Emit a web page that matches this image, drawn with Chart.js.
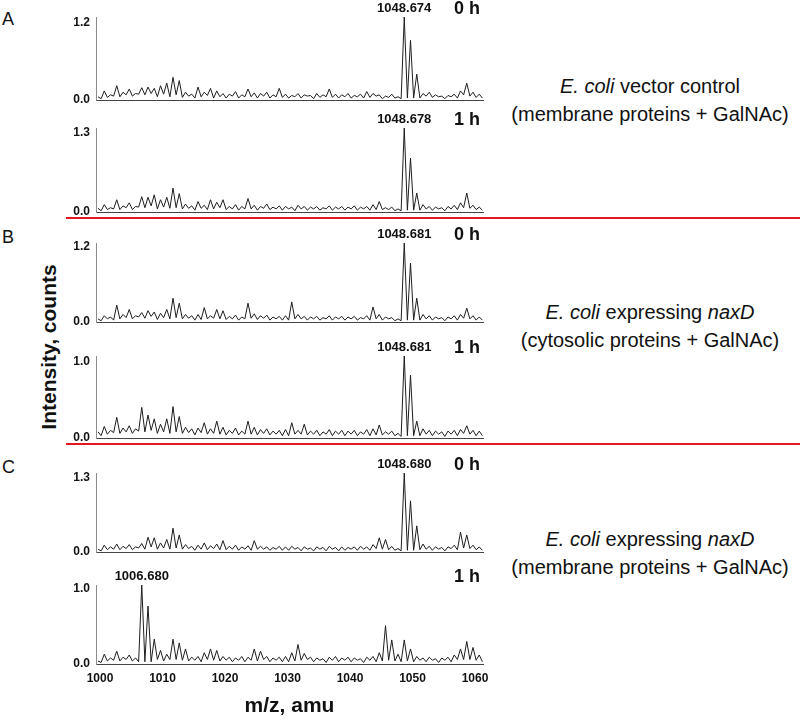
<!DOCTYPE html>
<html>
<head>
<meta charset="utf-8">
<script src="https://cdn.jsdelivr.net/npm/chart.js@4.4.1/dist/chart.umd.min.js"></script>
<style>
  html, body { margin: 0; padding: 0; background: #fff; }
  body {
    width: 800px; height: 720px; position: relative; overflow: hidden;
    font-family: "Liberation Sans", Arial, Helvetica, sans-serif; color: #111;
  }
  .abs { position: absolute; }
  .letter { left: 2px; font-size: 18px; line-height: 18px; }
  .sample { left: 510px; width: 280px; text-align: center; font-size: 20px; line-height: 28px; white-space: nowrap; }
  .redline { left: 66px; width: 734px; height: 2px; background: #e5161d; }
  .ytitle {
    left: -51px; top: 335px; width: 200px; height: 24px; line-height: 24px;
    text-align: center; font-size: 21px; font-weight: bold; transform: rotate(-90deg);
  }
  canvas { position: absolute; left: 0; }
</style>
</head>
<body>
<div class="abs letter" style="top:10px">A</div>
<div class="abs letter" style="top:228px">B</div>
<div class="abs letter" style="top:458px">C</div>

<div class="abs redline" style="top:217px"></div>
<div class="abs redline" style="top:443px"></div>

<div class="abs ytitle">Intensity, counts</div>

<div class="abs sample" style="top:72px"><i>E. coli</i> vector control<br>(membrane proteins + GalNAc)</div>
<div class="abs sample" style="top:298px"><i>E. coli</i> expressing <i>naxD</i><br>(cytosolic proteins + GalNAc)</div>
<div class="abs sample" style="top:525px"><i>E. coli</i> expressing <i>naxD</i><br>(membrane proteins + GalNAc)</div>

<script>
// m/z sampling points of the spectra (peak / valley alternating)
const mz = [
  999.68,1000.18,1000.68,1001.18,1001.68,1002.18,1002.68,1003.18,1003.68,1004.18,1004.68,1005.18,1005.68,1006.18,1006.68,1007.18,1007.68,1008.18,1008.68,1009.18,
  1009.68,1010.18,1010.68,1011.18,1011.68,1012.18,1012.68,1013.18,1013.68,1014.18,1014.68,1015.18,1015.68,1016.18,1016.68,1017.18,1017.68,1018.18,1018.68,1019.18,
  1019.68,1020.18,1020.68,1021.18,1021.68,1022.18,1022.68,1023.18,1023.68,1024.18,1024.68,1025.18,1025.68,1026.18,1026.68,1027.18,1027.68,1028.18,1028.68,1029.18,
  1029.68,1030.18,1030.68,1031.18,1031.68,1032.18,1032.68,1033.18,1033.68,1034.18,1034.68,1035.18,1035.68,1036.18,1036.68,1037.18,1037.68,1038.18,1038.68,1039.18,
  1039.68,1040.18,1040.68,1041.18,1041.68,1042.18,1042.68,1043.18,1043.68,1044.18,1044.68,1045.18,1045.68,1046.18,1046.68,1047.18,1047.68,1048.18,1048.68,1049.18,
  1049.68,1050.18,1050.68,1051.18,1051.68,1052.18,1052.68,1053.18,1053.68,1054.18,1054.68,1055.18,1055.68,1056.18,1056.68,1057.18,1057.68,1058.18,1058.68,1059.18,
  1059.68,1060.18,1060.68,1061.18
];

// A: vector control, membrane proteins
const specA0 = [
  .05,.02,.14,.04,.08,.06,.22,.05,.12,.08,.17,.06,.10,.09,.19,.08,.20,.10,.18,.05,
  .22,.09,.26,.05,.35,.08,.30,.04,.12,.06,.09,.03,.20,.05,.12,.07,.18,.03,.14,.05,
  .10,.03,.09,.06,.13,.03,.08,.05,.17,.05,.11,.03,.10,.06,.12,.03,.08,.05,.18,.04,
  .09,.03,.07,.05,.10,.03,.08,.06,.07,.02,.10,.04,.08,.05,.17,.04,.09,.03,.08,.05,
  .10,.03,.07,.05,.09,.03,.13,.04,.10,.06,.08,.02,.06,.04,.09,.03,.05,.02,1.28,.03,
  .92,.03,.40,.03,.10,.06,.12,.04,.08,.05,.06,.02,.07,.05,.09,.03,.14,.08,.26,.06,
  .12,.04,.09,.03
];
const specA1 = [
  .06,.02,.12,.04,.07,.05,.20,.04,.10,.07,.15,.04,.09,.08,.25,.07,.24,.10,.28,.05,
  .20,.08,.24,.06,.39,.07,.30,.05,.13,.06,.10,.03,.17,.06,.11,.04,.20,.05,.16,.07,
  .20,.04,.09,.05,.12,.03,.09,.05,.22,.05,.11,.03,.09,.06,.13,.04,.08,.05,.10,.03,
  .09,.05,.08,.02,.11,.05,.09,.03,.08,.05,.09,.03,.07,.05,.10,.03,.08,.05,.09,.03,
  .08,.05,.10,.03,.08,.05,.09,.03,.12,.04,.17,.04,.07,.04,.08,.02,.05,.02,1.37,.03,
  .88,.03,.31,.03,.12,.05,.09,.03,.08,.05,.07,.02,.09,.05,.11,.04,.15,.07,.31,.06,
  .11,.04,.08,.03
];
// B: naxD, cytosolic proteins
const specB0 = [
  .05,.02,.10,.05,.08,.03,.27,.05,.12,.07,.20,.05,.10,.08,.15,.06,.18,.09,.16,.04,
  .14,.07,.20,.05,.38,.07,.30,.05,.12,.06,.10,.03,.12,.04,.23,.05,.10,.06,.20,.05,
  .18,.04,.09,.05,.11,.03,.08,.05,.30,.06,.13,.04,.10,.06,.11,.03,.08,.05,.09,.03,
  .10,.03,.32,.05,.12,.05,.09,.03,.08,.05,.09,.03,.07,.05,.10,.03,.08,.05,.09,.03,
  .08,.05,.09,.03,.07,.05,.10,.03,.24,.05,.12,.03,.08,.05,.07,.02,.05,.02,1.26,.03,
  .94,.03,.38,.03,.12,.05,.10,.03,.08,.05,.07,.02,.08,.05,.10,.03,.12,.06,.22,.05,
  .10,.03,.08,.03
];
const specB1 = [
  .08,.03,.15,.05,.10,.07,.27,.06,.13,.08,.16,.06,.12,.09,.40,.08,.30,.10,.25,.06,
  .18,.08,.25,.06,.41,.08,.28,.06,.14,.07,.12,.04,.13,.07,.20,.05,.12,.06,.22,.05,
  .14,.04,.10,.06,.13,.04,.09,.05,.22,.05,.14,.04,.11,.06,.12,.04,.09,.05,.10,.03,
  .11,.03,.20,.05,.10,.05,.18,.04,.09,.05,.10,.03,.08,.05,.11,.03,.09,.05,.10,.03,
  .09,.05,.10,.03,.08,.05,.11,.03,.12,.04,.17,.04,.08,.05,.09,.03,.06,.02,1.07,.03,
  .82,.03,.22,.03,.12,.05,.10,.03,.09,.05,.08,.02,.09,.05,.10,.03,.11,.06,.16,.05,
  .10,.03,.09,.03
];
// C: naxD, membrane proteins
const specC0 = [
  .05,.02,.12,.04,.09,.05,.14,.04,.10,.06,.13,.04,.09,.07,.15,.05,.26,.09,.25,.05,
  .16,.07,.22,.05,.42,.07,.30,.05,.13,.06,.10,.03,.12,.05,.16,.04,.11,.06,.14,.04,
  .20,.04,.10,.05,.12,.03,.09,.05,.11,.03,.20,.05,.10,.05,.09,.03,.08,.05,.10,.03,
  .09,.03,.10,.05,.08,.02,.09,.05,.07,.02,.09,.05,.08,.02,.10,.05,.08,.02,.09,.03,
  .08,.05,.09,.03,.10,.05,.09,.03,.13,.06,.25,.05,.22,.04,.10,.03,.06,.02,1.39,.03,
  .90,.03,.46,.04,.14,.05,.10,.03,.09,.05,.08,.02,.09,.06,.12,.04,.35,.07,.30,.06,
  .12,.04,.09,.03
];
const specC1 = [
  .04,.02,.13,.04,.08,.05,.17,.04,.09,.06,.12,.04,.08,.03,1.05,.03,.77,.03,.33,.06,
  .18,.04,.13,.06,.33,.06,.28,.05,.20,.04,.09,.05,.10,.03,.15,.06,.20,.05,.18,.04,
  .10,.05,.09,.03,.08,.05,.10,.03,.09,.05,.20,.04,.17,.06,.10,.03,.08,.05,.09,.03,
  .10,.03,.15,.04,.26,.05,.14,.06,.09,.03,.08,.05,.07,.02,.09,.05,.10,.03,.08,.05,
  .09,.03,.08,.05,.07,.02,.09,.05,.10,.03,.15,.04,.51,.05,.32,.04,.13,.03,.32,.04,
  .20,.03,.10,.05,.08,.03,.09,.05,.07,.02,.08,.05,.09,.03,.12,.06,.20,.06,.30,.06,
  .22,.05,.12,.03
];

const series = [specA0, specA1, specB0, specB1, specC0, specC1];
const yMax = [1.28, 1.37, 1.26, 1.07, 1.39, 1.05];
const yTopTick = [1.2, 1.3, 1.2, 1.0, 1.3, 1.0];
const peakMz = [1048.674, 1048.678, 1048.681, 1048.681, 1048.680, 1006.680];
const timeLabels = ['0 h', '1 h', '0 h', '1 h', '0 h', '1 h'];
const xTicks = [1000, 1010, 1020, 1030, 1040, 1050, 1060];

// panel placement on the page (plot top / baseline, px)
const panelTop = [17, 128, 243, 356, 473, 585];
const panelBase = [100, 212, 322, 438, 552, 664];
const PAD_TOP = 17;
const PAD_BOTTOM = 15; // room for the half-height of the "0.0" label
const FONT = '"Liberation Sans", Arial, Helvetica, sans-serif';

const peakLabel = {
  id: 'peakLabel',
  afterDraw(chart, args, opts) {
    const { ctx, chartArea, scales } = chart;
    ctx.save();
    ctx.fillStyle = '#111';
    ctx.textAlign = 'center';
    ctx.textBaseline = 'middle';
    ctx.font = 'bold 13px ' + FONT;
    ctx.fillText(opts.mz.toFixed(3), scales.x.getPixelForValue(opts.mz), chartArea.top - 9);
    ctx.font = 'bold 18px ' + FONT;
    ctx.fillText(opts.time, chartArea.right - 16, chartArea.top - 8);
    ctx.restore();
  }
};

series.forEach((vals, p) => {
  const last = p === series.length - 1;
  const top = panelTop[p] - PAD_TOP;
  const h = last ? 720 - top : PAD_TOP + (panelBase[p] - panelTop[p]) + PAD_BOTTOM;

  const cv = document.createElement('canvas');
  cv.width = 500;
  cv.height = h;
  cv.style.top = top + 'px';
  cv.style.width = '500px';
  cv.style.height = h + 'px';
  document.body.appendChild(cv);

  new Chart(cv, {
    type: 'line',
    data: {
      datasets: [{
        data: mz.map((x, i) => ({ x: x, y: vals[i] })),
        borderColor: '#1e1e1e',
        borderWidth: 1,
        pointRadius: 0,
        tension: 0,
        fill: false
      }]
    },
    options: {
      responsive: false,
      animation: false,
      devicePixelRatio: 1,
      layout: { padding: { top: PAD_TOP, right: 17, bottom: last ? 0 : PAD_BOTTOM, left: 0 } },
      plugins: {
        legend: { display: false },
        tooltip: { enabled: false },
        peakLabel: { mz: peakMz[p], time: timeLabels[p] }
      },
      scales: {
        x: {
          type: 'linear',
          min: 999.36,
          max: 1061.28,
          afterBuildTicks: (s) => { s.ticks = xTicks.map(v => ({ value: v })); },
          afterFit: (s) => { s.height = last ? 56 : 0; },
          grid: { display: false, drawTicks: false },
          border: { display: true, color: '#444', width: 1 },
          ticks: {
            display: last,
            padding: 7,
            color: '#111',
            maxRotation: 0,
            autoSkip: false,
            font: { family: FONT, size: 12, weight: 'bold' },
            callback: (v) => v
          },
          title: {
            display: last,
            text: 'm/z, amu',
            color: '#111',
            font: { family: FONT, size: 21, weight: 'bold' },
            padding: { top: 0, bottom: 1 }
          }
        },
        y: {
          min: 0,
          max: yMax[p],
          afterBuildTicks: (s) => { s.ticks = [0, yTopTick[p]].map(v => ({ value: v })); },
          afterFit: (s) => { s.width = 96; },
          grid: { display: false, drawTicks: false },
          border: { display: true, color: '#8c8c8c', width: 1 },
          ticks: {
            padding: 6,
            color: '#111',
            font: { family: FONT, size: 12, weight: 'bold' },
            callback: (v) => v.toFixed(1)
          }
        }
      }
    },
    plugins: [peakLabel]
  });
});
</script>
</body>
</html>
